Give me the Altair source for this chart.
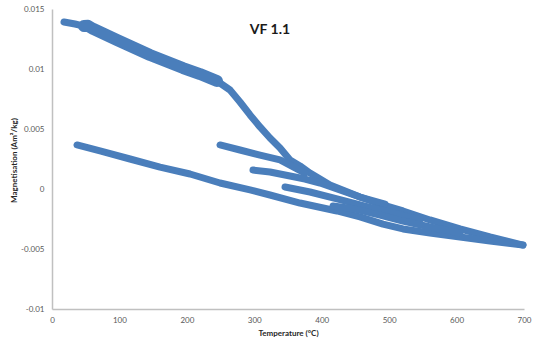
import altair as alt
import pandas as pd

BLUE = "#4a7ebb"

# Main heating curve (A)
a_t = [17.8, 34.1, 47.5, 53.4, 60.8, 96.4, 145.3, 194.3, 219.5, 244.7, 264.0, 278.8,
       293.7, 308.5, 323.3, 338.2, 353.0, 367.8, 382.6, 397.5, 412.3, 434.6, 456.8,
       486.5, 520.6, 560.6, 605.1, 649.6, 698.5]
a_m = [0.01392, 0.01375, 0.01358, 0.0136, 0.01335, 0.01242, 0.01117, 0.01008, 0.00958,
       0.009, 0.00825, 0.00725, 0.00617, 0.00517, 0.00425, 0.00342, 0.00242, 0.00192,
       0.00133, 0.00083, 0.00033, -0.00017, -0.00067, -0.00125, -0.00183, -0.00258,
       -0.00333, -0.004, -0.00467]

# Partial cycle curves
c_t = [249.2, 278.8, 308.5, 338.2, 375.2]
c_m = [0.00367, 0.00325, 0.00283, 0.00242, 0.00133]

d_t = [298.1, 323.3, 353.0, 375.2, 397.5, 427.1, 456.8, 493.9]
d_m = [0.00158, 0.00142, 0.00108, 0.00083, 0.0005, -0.00008, -0.00067, -0.00125]

e_t = [345.6, 382.6, 422.7, 464.2, 501.3, 545.8]
e_m = [0.00017, -0.00025, -0.00083, -0.00142, -0.00192, -0.00258]

f_t = [416.8, 449.4, 486.5, 520.6, 560.6, 605.1]
f_m = [-0.00142, -0.00167, -0.00217, -0.00267, -0.00317, -0.00367]

# Final cooling curve (B)
b_t = [37.1, 71.2, 115.7, 160.2, 204.7, 249.2, 293.7, 323.3, 367.8, 422.7, 456.8,
       490.9, 520.6, 560.6, 605.1, 649.6, 698.5]
b_m = [0.00367, 0.00317, 0.0025, 0.00183, 0.00125, 0.0005, -0.00008, -0.0005, -0.00117,
       -0.00183, -0.00233, -0.00292, -0.00333, -0.00367, -0.004, -0.00433, -0.00467]

x_ticks = [0, 100, 200, 300, 400, 500, 600, 700]
y_ticks = [-0.01, -0.005, 0, 0.005, 0.01, 0.015]

segments = {"A": (a_t, a_m), "B": (b_t, b_m), "C": (c_t, c_m),
            "D": (d_t, d_m), "E": (e_t, e_m), "F": (f_t, f_m)}
rows = []
for name, (ts, ms) in segments.items():
    for i, (t, m) in enumerate(zip(ts, ms)):
        rows.append({"seg": name, "order": i, "T": t, "M": m})
df = pd.DataFrame(rows)

x = alt.X("T:Q", scale=alt.Scale(domain=[0, 700], nice=False),
          axis=alt.Axis(values=x_ticks, title="Temperature (°C)", labelPadding=7,
                        titlePadding=5, labelFlush=False))
y = alt.Y("M:Q", scale=alt.Scale(domain=[-0.01, 0.015], nice=False),
          axis=alt.Axis(values=y_ticks, labelExpr="'' + datum.value",
                        title="Magnetisation (Am²/kg)", labelPadding=8,
                        labelFlush=False, labelAlign="right",
                        titleX=-38, titleY=151, titleAngle=-90,
                        titleAlign="center", titleBaseline="middle"))

base = alt.Chart(df).mark_line(color=BLUE, strokeWidth=7, strokeCap="round",
                               strokeJoin="round").encode(
    x=x, y=y, detail="seg:N", order="order:Q")

thick = alt.Chart(df).transform_filter(
    "datum.seg == 'A' && datum.T >= 45 && datum.T <= 250"
).mark_line(color=BLUE, strokeWidth=12, strokeCap="round", strokeJoin="round").encode(
    x=x, y=y, detail="seg:N", order="order:Q")

chart = alt.layer(base, thick).properties(
    width=472, height=300,
    title=alt.TitleParams("VF 1.1", anchor="middle", dx=-18, dy=39, offset=0,
                          baseline="middle", font="Lato", fontSize=14,
                          fontWeight="bold", color="#1a1a1a"),
    autosize=alt.AutoSizeParams(type="none"),
    padding={"left": 52, "top": 9, "right": 9, "bottom": 40},
).configure_view(stroke=None).configure_axis(
    grid=False, ticks=False, tickSize=0, domainColor="#c0c0c0", domainWidth=1.5,
    labelFont="Lato", labelFontSize=8, labelColor="#595959",
    titleFont="Lato", titleFontSize=8, titleFontWeight="bold", titleColor="#262626",
)

chart.save("out.html", embed_options={"renderer": "svg", "actions": False})
